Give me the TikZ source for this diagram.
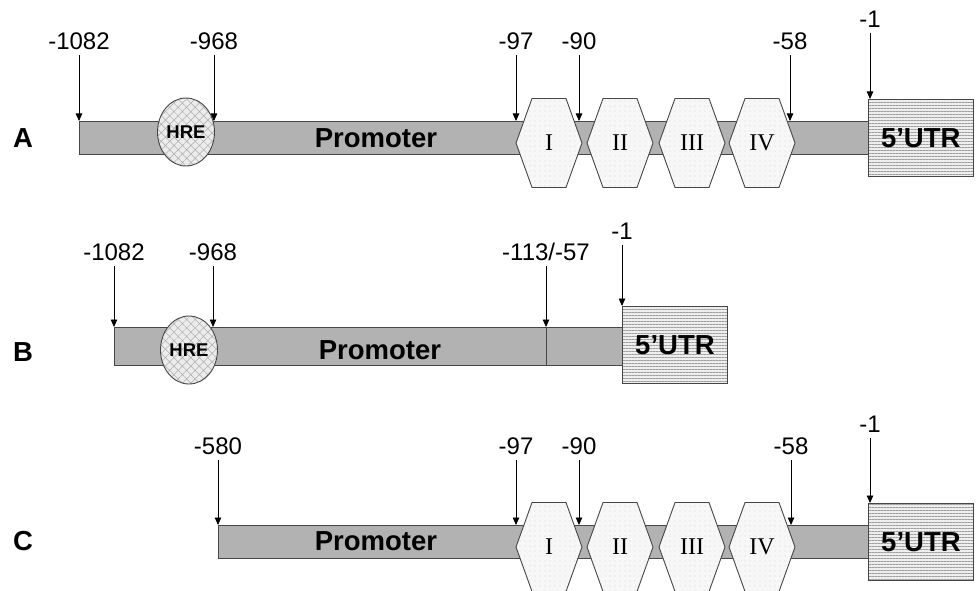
\documentclass[tikz,border=0pt]{standalone}
\usepackage{fontspec}
\setmainfont{Liberation Sans}
\newfontfamily\numfont{Liberation Serif}
\usetikzlibrary{positioning,arrows.meta,patterns.meta,shapes.geometric}
\definecolor{barfill}{RGB}{178,178,178}
\definecolor{edgegray}{RGB}{70,70,70}
\definecolor{hrefill}{RGB}{236,236,236}
\definecolor{hexfill}{RGB}{247,247,247}
\definecolor{utrfill}{RGB}{238,238,238}
\tikzset{
  barbox/.style={draw=edgegray, fill=barfill, line width=0.9pt, inner sep=0pt, anchor=west},
  utrbox/.style={draw=edgegray, line width=0.9pt, preaction={fill=utrfill},
    pattern={Lines[angle=0,distance=3pt,line width=0.5pt]}, pattern color=gray!75,
    minimum width=105pt, minimum height=77pt, inner sep=0pt, anchor=north west,
    font=\fontsize{27.5}{28}\bfseries},
  hrebox/.style={ellipse, draw=edgegray, line width=0.9pt, preaction={fill=hrefill},
    pattern={Hatch[angle=45,distance=6pt,line width=0.5pt]}, pattern color=gray!65,
    minimum width=57pt, minimum height=68pt, inner sep=0pt,
    font=\fontsize{18.5}{19}\bfseries},
  hexbody/.style={draw=edgegray, line width=0.9pt, preaction={fill=hexfill},
    pattern={Dots[distance=5pt,radius=0.45pt]}, pattern color=gray!70},
  numeral/.style={font=\numfont\fontsize{24}{24}\selectfont},
  rowname/.style={font=\fontsize{27.5}{28}\bfseries},
  prmtext/.style={font=\fontsize{27.5}{28}\bfseries},
  poslabel/.style={inner sep=0pt, text depth=0pt, font=\fontsize{24}{24}\selectfont},
  tickarrow/.style={-{Triangle[width=6.5pt,length=7.5pt]}, line width=0.8pt, shorten <=5pt},
  hexsite/.pic={
    \draw[hexbody] (-33,0) -- (-17,-44.5) -- (17,-44.5) -- (33,0) -- (17,44.5) -- (-17,44.5) -- cycle;
  }
}

\begin{document}
\begin{tikzpicture}[x=1pt, y=-1pt]
  \useasboundingbox (0,0) rectangle (979,591);

  % A: full promoter
  \node[barbox, minimum width=789pt, minimum height=33pt] (barA) at (79,137.5) {};
  \node[utrbox] (utrA) at (868,99) {5’UTR};
  \node[rowname] (rowA) at (23,138) {A};
  \node[prmtext] (prmA) at (376,138) {Promoter};
  \node[hrebox] (hreA) at (186,132) {HRE};
  \foreach \n/\x in {I/549,II/620,III/692,IV/762}
    {\pic at (\x,143) {hexsite}; \node[numeral] (A\n) at (\x,143) {\n};}
  \foreach \c/\x/\t in {1/79/-1082,2/214/-968,3/516/-97,4/579/-90,5/790/-58}
    {\coordinate (tA\c) at (\x,121);
     \node[poslabel, above=71pt of tA\c] (lA\c) {\t};
     \draw[tickarrow] (lA\c.south) -- (tA\c);}
  \coordinate (tA6) at (870,99);
  \node[poslabel, above=71pt of tA6] (lA6) {-1};
  \draw[tickarrow] (lA6.south) -- (tA6);

  % B: deletion -113/-57
  \node[barbox, minimum width=508pt, minimum height=38pt] (barB) at (114,346) {};
  \node[utrbox] (utrB) at (622,306) {5’UTR};
  \node[rowname] (rowB) at (23,352) {B};
  \node[prmtext] (prmB) at (380,350) {Promoter};
  \node[hrebox] (hreB) at (189,350) {HRE};
  \coordinate (tB1) at (114,327);
  \coordinate (tB2) at (213,327);
  \coordinate (tB3) at (546,327);
  \coordinate (tB4) at (622,306);
  \node[poslabel, above=66pt of tB1] (lB1) {-1082};
  \node[poslabel, above=66pt of tB2] (lB2) {-968};
  \node[poslabel, above=66pt of tB3] (lB3) {-113/-57};
  \node[poslabel, above=66pt of tB4] (lB4) {-1};
  \foreach \c in {1,2,3,4}
    \draw[tickarrow] (lB\c.south) -- (tB\c);
  \draw[draw=edgegray, line width=0.9pt] (tB3) -- (tB3 |- barB.south);

  % C: short promoter
  \node[barbox, minimum width=650pt, minimum height=33pt] (barC) at (218,541.5) {};
  \node[utrbox] (utrC) at (868,503) {5’UTR};
  \node[rowname] (rowC) at (23,541) {C};
  \node[prmtext] (prmC) at (376,541) {Promoter};
  \foreach \n/\x in {I/549,II/620,III/692,IV/762}
    {\pic at (\x,547) {hexsite}; \node[numeral] (C\n) at (\x,547) {\n};}
  \foreach \c/\x/\t in {1/218/-580,2/516/-97,3/579/-90,4/791/-58}
    {\coordinate (tC\c) at (\x,525);
     \node[poslabel, above=70pt of tC\c] (lC\c) {\t};
     \draw[tickarrow] (lC\c.south) -- (tC\c);}
  \coordinate (tC5) at (870,503);
  \node[poslabel, above=70pt of tC5] (lC5) {-1};
  \draw[tickarrow] (lC5.south) -- (tC5);
\end{tikzpicture}
\end{document}
